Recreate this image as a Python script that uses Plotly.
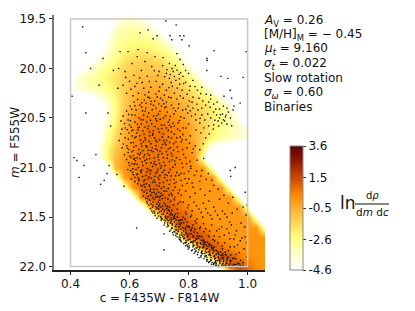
import plotly.graph_objects as go

# --- data ---
colour_grid = [0.34,0.37,0.40,0.43,0.46,0.49,0.52,0.55,0.58,0.61,0.64,0.67,0.70,0.73,0.76,0.79,0.82,0.85,0.88,0.91,0.94,0.97,1.00,1.03,1.06]
mag_grid = [19.4,19.5,19.6,19.7,19.8,19.9,20.0,20.1,20.2,20.3,20.4,20.5,20.6,20.7,20.8,20.9,21.0,21.1,21.2,21.3,21.4,21.5,21.6,21.7,21.8,21.9,22.0,22.1]
F = -9.0
G = -15.0
log_density = [
[F,F,F,F,F,F,F,-6.2,-5.4,-5.2,-5.6,-7,F,F,F,F,F,F,F,F,F,F,F,F,F],
[F,F,F,F,F,F,-6.4,-4.4,-3.7,-3.5,-3.9,-4.9,-6.5,F,F,F,F,F,F,F,F,F,F,F,F],
[F,F,F,F,F,-7,-4.9,-3.6,-3.1,-3.0,-3.1,-3.6,-4.6,-6.2,F,F,F,F,F,F,F,F,F,F,F],
[F,F,F,F,F,-6.2,-4.4,-3.2,-2.8,-2.6,-2.6,-2.8,-3.3,-4.2,-5.8,F,F,F,F,F,F,F,F,F,F],
[F,F,F,F,-7,-5.2,-3.8,-3,-2.5,-2.2,-2.1,-2.2,-2.5,-3.0,-3.9,-5.3,-7.5,F,F,F,F,F,F,F,F],
[F,F,F,-7,-5.2,-4,-3.2,-2.6,-1.9,-1.6,-1.4,-1.5,-1.7,-2.2,-3.0,-4.3,-6,F,F,F,F,F,F,F,F],
[F,F,-7,-5,-3.8,-3.2,-2.7,-2.1,-1.5,-1.2,-1.1,-1.1,-1.2,-1.6,-2.2,-3.2,-4.5,-6.5,F,F,F,F,F,F,F],
[F,-7,-4.8,-3.6,-3.1,-2.8,-2.3,-1.8,-1.3,-1.0,-0.8,-0.8,-0.8,-1.1,-1.5,-2.1,-3,-4.3,-6.2,F,F,F,F,F,F],
[F,-6.6,-4.4,-3.6,-3.3,-3.0,-2.6,-2.0,-1.3,-0.8,-0.5,-0.4,-0.4,-0.6,-1.0,-1.5,-2.2,-3.0,-4.2,-6,F,F,F,F,F],
[F,F,F,-7,-5.2,-4.2,-3.4,-2.4,-1.3,-0.6,-0.2,-0.1,-0.1,-0.3,-0.6,-1,-1.5,-2,-2.8,-3.6,-5,-7,F,F,F],
[F,F,F,F,F,-6.5,-4.0,-2.6,-1.1,-0.3,0.1,0.2,0.2,0.0,-0.2,-0.6,-1.1,-1.5,-2.1,-2.8,-3.6,-5.2,-7.5,F,F],
[F,F,F,F,F,-6,-3.8,-2.4,-0.8,0.0,0.4,0.5,0.5,0.3,0.1,-0.3,-0.9,-1.4,-2,-2.6,-3.2,-4.2,-6.2,F,F],
[F,F,F,F,-8.5,-5.5,-3.4,-2.0,-0.6,0.1,0.5,0.7,0.7,0.5,0.3,0,-0.6,-1.3,-2,-2.6,-3.0,-3.6,-4.3,-6.5,F],
[F,F,F,F,-8,-5,-3.0,-1.6,-0.4,0.2,0.6,0.7,0.8,0.6,0.4,0.1,-0.5,-1.4,-2.4,-3,-3.3,-3.6,-4.2,-6,F],
[F,F,F,F,-7.5,-4.6,-2.6,-1.2,-0.3,0.3,0.6,0.7,0.7,0.6,0.5,0.2,-0.2,-2.0,-4.6,-5.5,-5.6,-5.8,-6.5,-8,F],
[F,F,F,F,F,-5,-2.4,-0.8,0.0,0.4,0.6,0.7,0.7,0.6,0.5,0.3,0.1,-3.0,-7.9,-12.8,G,G,G,G,G],
[G,G,G,G,G,-10.6,-5.7,-0.75,0.1,0.5,0.7,0.8,0.8,0.7,0.5,0.3,0.1,0.0,-3.2,-8.2,-13,G,G,G,G],
[G,G,G,G,G,-13.6,-8.7,-3.8,-0.1,0.5,0.8,0.9,0.8,0.6,0.4,0.2,0.1,0,0,-3.5,-8.5,-13.4,G,G,G],
[G,G,G,G,G,G,-13,-8.2,-3.2,0.2,0.8,1.0,0.9,0.7,0.4,0.2,0.1,0,0,0,-3.5,-8.5,-13.4,G,G],
[G,G,G,G,G,G,G,-13.4,-8.5,-3.8,0.5,1.1,1.1,0.9,0.5,0.2,0.1,0,0,0,0,-3.5,-8.5,-12.8,G],
[G,G,G,G,G,G,G,G,-14,-9.5,-4.9,-0.1,1.0,1.2,0.8,0.4,0.1,0,0,0,0,0,-3.5,-7.9,-12.8],
[G,G,G,G,G,G,G,G,G,-15,-11.2,-6.2,-1.3,1.1,1.3,0.9,0.4,0.1,0,0,0,0,0,-3.5,-8.5],
[G,G,G,G,G,G,G,G,G,G,G,-13.4,-8.5,-3.5,1.0,1.4,1.1,0.5,0.2,0.1,0,0,0,0,-3.5],
[G,G,G,G,G,G,G,G,G,G,G,G,-13.7,-8.7,-3.8,1.0,1.5,1.2,0.6,0.2,0.1,0,0.1,0.2,0.0],
[G,G,G,G,G,G,G,G,G,G,G,G,G,G,-11.8,-6.8,-2.4,1.2,1.5,0.8,0.3,0.1,0.1,0.1,0.1],
[G,G,G,G,G,G,G,G,G,G,G,G,G,G,G,-14.5,-10,-5.2,-0.2,1.5,1.3,0.6,0.2,0.1,0],
[G,G,G,G,G,G,G,G,G,G,G,G,G,G,G,G,G,-12.3,-7.4,-2.4,1.0,1.5,0.8,0.2,0],
[G,G,G,G,G,G,G,G,G,G,G,G,G,G,G,G,G,G,-14,-9,-4,1.0,1.2,0.6,0],
]
colourbar_ticks = [-4.6,-2.6,-0.5,1.5,3.6]
colourbar_labels = ["-4.6","-2.6","-0.5","1.5","3.6"]

stars = [
# isolated stars
(.441,19.58),(.452,19.84),(.468,20.00),(.510,19.90),(.497,20.17),(.405,20.28),(.452,20.45),(.527,20.45),(.536,20.58),(.412,20.90),(.486,20.87),
(.723,19.52),(.758,19.56),(.636,19.64),(.663,19.61),(.693,19.67),(.680,19.70),(.737,19.67),(.743,19.71),(.771,19.67),(.784,19.67),(.777,19.71),(.802,19.77),
(.886,19.82),(.995,19.83),(.862,19.90),(.863,19.92),(.862,20.02),(.910,20.08),(.933,20.10),(.985,20.09),(.941,20.22),(.920,20.28),(.946,20.30),(.975,20.35),(.954,20.38),(.951,20.42),(.946,20.58),
(.422,20.93),(.446,20.98),(.531,20.98),(.524,21.06),(.429,21.10),(.514,21.13),(.502,21.17),(.557,21.07),(.581,21.19),(.624,21.61),(.717,21.83),(.717,21.67),(.958,21.00),(.941,21.03),(.943,21.09),
(.771,21.73),(.797,21.80),(.835,21.91),(.848,21.87),(.872,21.95),(.825,21.84),(.862,21.93),(.790,21.76),(.768,21.70),(.868,21.96),(.885,21.97),(.892,21.99),(.856,21.90),
# upper region
(.568,19.83),(.595,19.83),(.629,19.81),(.660,19.84),(.686,19.88),(.626,19.88),(.714,19.89),(.760,19.85),(.771,19.91),(.744,20.00),(.735,19.95),(.652,19.93),(.608,19.95),(.585,20.03),(.545,20.02),(.563,20.00),
(.675,19.98),(.700,20.03),(.725,20.05),(.748,20.03),(.755,19.97),(.782,19.96),(.790,20.02),(.768,20.06),(.735,20.10),(.757,20.12),(.781,20.08),(.800,20.05),(.640,20.02),(.615,20.07),(.660,20.08),(.600,20.13),
(.578,20.17),(.560,20.20),(.625,20.15),(.690,20.13),(.712,20.16),(.745,20.18),(.770,20.16),(.790,20.14),(.805,20.18),(.815,20.12),(.830,20.22),(.845,20.19),(.672,20.19),(.648,20.20),(.605,20.21),(.590,20.25),
(.630,20.25),(.665,20.24),(.700,20.23),(.725,20.22),(.752,20.25),(.778,20.22),(.795,20.26),(.815,20.29),(.835,20.30),(.860,20.26),(.875,20.27),(.848,20.33),(.828,20.36),(.803,20.33),(.782,20.30),(.760,20.31),
# right-hand branch
(.832,20.42),(.845,20.40),(.858,20.37),(.868,20.34),(.875,20.31),(.885,20.36),(.897,20.34),(.905,20.41),(.918,20.38),(.930,20.40),(.885,20.44),(.895,20.47),(.905,20.50),(.915,20.46),(.925,20.49),(.935,20.44),
(.900,20.53),(.912,20.55),(.922,20.53),(.930,20.56),(.942,20.50),(.875,20.50),(.865,20.46),(.855,20.52),(.845,20.47),(.838,20.55),(.852,20.60),(.868,20.58),(.885,20.57),(.870,20.66),(.858,20.70),(.842,20.65),(.825,20.62),
(.825,20.52),(.810,20.48),(.797,20.45),(.815,20.40),(.798,20.38),(.780,20.42),(.765,20.40),(.785,20.50),(.800,20.56),(.782,20.60),(.765,20.55),(.806,20.68),(.792,20.72),(.822,20.78),(.850,20.76),(.838,20.82),(.812,20.85),
# core
(.578,20.48),(.590,20.43),(.602,20.38),(.615,20.34),(.595,20.52),(.608,20.47),(.622,20.42),(.635,20.37),(.650,20.32),(.668,20.30),(.685,20.33),(.705,20.30),(.725,20.34),(.742,20.37),(.655,20.40),(.672,20.36),(.690,20.40),(.708,20.38),(.728,20.44),(.750,20.46),
(.585,20.60),(.600,20.57),(.618,20.54),(.632,20.50),(.648,20.47),(.665,20.45),(.682,20.48),(.698,20.46),(.715,20.50),(.735,20.52),(.752,20.58),(.770,20.63),(.640,20.56),(.658,20.54),(.675,20.56),(.692,20.53),(.708,20.57),(.725,20.60),(.742,20.64),(.760,20.70),(.775,20.74),
(.570,20.66),(.585,20.70),(.598,20.65),(.612,20.62),(.628,20.60),(.645,20.63),(.662,20.61),(.680,20.63),(.697,20.61),(.715,20.66),(.732,20.69),(.750,20.76),(.618,20.70),(.635,20.68),(.652,20.70),(.668,20.68),(.685,20.70),(.702,20.72),(.720,20.75),(.738,20.80),(.780,20.82),(.795,20.80),
(.575,20.80),(.590,20.78),(.605,20.75),(.622,20.78),(.640,20.76),(.655,20.78),(.672,20.76),(.690,20.78),(.708,20.80),(.725,20.84),(.745,20.88),(.765,20.84),(.770,20.92),(.790,20.90),(.805,20.94),(.595,20.85),(.612,20.83),(.628,20.86),(.645,20.83),(.662,20.86),(.680,20.84),(.698,20.87),(.715,20.90),(.735,20.94),(.755,20.97),
(.590,20.92),(.605,20.90),(.620,20.93),(.635,20.91),(.652,20.93),(.668,20.91),(.685,20.94),(.702,20.96),(.720,20.98),(.738,21.02),(.760,21.05),(.780,21.00),(.800,21.04),(.820,21.08),(.845,21.03),(.600,20.98),(.615,20.97),(.630,21.00),(.645,20.98),(.660,21.01),(.678,20.99),(.695,21.02),(.712,21.05),(.728,21.08),(.750,21.12),
(.610,21.05),(.625,21.07),(.640,21.05),(.655,21.08),(.670,21.06),(.685,21.09),(.700,21.12),(.715,21.15),(.735,21.17),(.755,21.20),(.775,21.13),(.795,21.16),(.815,21.20),(.838,21.14),(.860,21.12),(.632,21.12),(.648,21.14),(.662,21.12),(.678,21.15),(.692,21.18),(.708,21.21),(.725,21.24),(.745,21.28),(.765,21.26),
(.612,20.88),(.608,20.96),(.622,21.02),(.618,21.10),(.638,21.18),(.652,21.20),(.668,21.19),(.682,21.22),(.698,21.25),(.712,21.28),(.730,21.32),(.642,21.23),(.658,21.26),(.672,21.28),(.688,21.30),(.702,21.33),(.718,21.36),(.735,21.40),
# ridge
(.655,21.31),(.668,21.33),(.680,21.35),(.692,21.37),(.705,21.40),(.720,21.43),(.665,21.38),(.678,21.40),(.690,21.42),(.702,21.45),(.715,21.47),(.730,21.50),(.745,21.48),(.685,21.46),(.698,21.49),(.710,21.52),(.722,21.54),(.738,21.56),(.752,21.55),
(.707,21.53),(.719,21.56),(.732,21.59),(.745,21.61),(.757,21.60),(.772,21.58),(.727,21.60),(.740,21.63),(.753,21.65),(.762,21.67),(.777,21.66),(.790,21.63),(.802,21.60),(.748,21.68),(.761,21.70),(.772,21.71),(.784,21.72),(.797,21.70),(.809,21.67),
(.775,21.75),(.788,21.76),(.800,21.77),(.812,21.75),(.825,21.72),(.838,21.69),(.790,21.79),(.802,21.81),(.815,21.80),(.828,21.78),(.840,21.76),(.810,21.84),(.822,21.85),(.835,21.83),(.848,21.81),(.860,21.78),(.830,21.88),(.842,21.89),(.855,21.87),(.868,21.85),(.880,21.82),
(.852,21.92),(.864,21.93),(.876,21.91),(.888,21.89),(.899,21.86),(.870,21.95),(.880,21.96),(.892,21.94),(.903,21.92),(.915,21.89),(.885,21.98),(.894,21.99),(.906,21.97),(.918,21.95),(.931,21.92),(.905,22.00),(.918,21.99),(.930,21.97),(.942,21.95),(.955,21.98),(.965,22.00),(.938,22.00),(.950,21.92),(.975,21.99),
(.722,21.38),(.735,21.44),(.748,21.52),(.762,21.50),(.775,21.56),(.788,21.52),(.802,21.60),(.815,21.58),(.830,21.66),(.845,21.70),(.855,21.76),(.872,21.78),(.885,21.84),(.900,21.86),(.925,21.88),
(.670,21.24),(.690,21.27),(.705,21.29),(.660,21.36),(.675,21.44),(.695,21.41),(.708,21.44),(.728,21.46),(.742,21.53),(.722,21.50),(.745,21.58),(.765,21.63),(.785,21.68),(.800,21.73),(.815,21.76),(.828,21.81),(.845,21.85),(.860,21.89),(.875,21.93),(.888,21.96),(.898,21.94),
# right part of the band
(.775,21.28),(.790,21.24),(.805,21.30),(.822,21.26),(.840,21.22),(.855,21.28),(.872,21.24),(.885,21.18),(.900,21.22),(.800,21.38),(.818,21.35),(.835,21.42),(.850,21.36),(.868,21.34),(.885,21.40),(.905,21.32),(.920,21.28),(.935,21.36),(.950,21.30),
(.790,21.45),(.810,21.48),(.828,21.52),(.848,21.50),(.865,21.46),(.880,21.52),(.898,21.48),(.915,21.44),(.930,21.50),(.948,21.46),(.965,21.42),(.985,21.40),(.995,21.48),(.840,21.60),(.858,21.62),(.878,21.58),(.895,21.64),(.912,21.60),(.930,21.62),(.945,21.58),(.962,21.64),(.978,21.56),(.990,21.60),
(.870,21.70),(.888,21.74),(.905,21.70),(.922,21.76),(.940,21.72),(.958,21.68),(.975,21.74),(.992,21.70),(.915,21.82),(.935,21.84),(.955,21.80),(.972,21.86),(.988,21.82),(.998,21.90),(.960,21.92),(.985,21.96),(.998,21.76),(.998,21.38),(.992,21.25),
# further core stars
(.627,20.313),(.641,20.347),(.663,20.291),(.681,20.372),(.694,20.288),(.716,20.356),(.733,20.291),(.607,20.412),(.583,20.556),(.619,20.471),(.644,20.428),(.661,20.486),(.677,20.417),(.703,20.433),(.719,20.396),(.738,20.484),(.756,20.427),(.773,20.489),
(.592,20.617),(.603,20.526),(.627,20.563),(.639,20.518),(.653,20.592),(.671,20.523),(.686,20.587),(.704,20.512),(.718,20.573),(.731,20.627),(.747,20.553),(.763,20.612),(.781,20.667),(.596,20.713),(.609,20.682),(.624,20.651),(.637,20.722),(.649,20.663),(.667,20.737),(.679,20.659),(.693,20.741),(.711,20.692),(.726,20.724),(.742,20.701),(.757,20.741),(.772,20.692),
(.579,20.763),(.598,20.819),(.614,20.792),(.631,20.818),(.647,20.739),(.664,20.827),(.677,20.802),(.694,20.823),(.712,20.767),(.731,20.812),(.749,20.826),(.762,20.793),(.783,20.868),(.601,20.884),(.617,20.907),(.633,20.872),(.648,20.898),(.667,20.877),(.684,20.901),(.699,20.923),(.711,20.861),(.728,20.907),(.744,20.923),(.759,20.902),(.777,20.958),
(.597,20.952),(.611,21.012),(.626,20.968),(.642,21.023),(.657,20.957),(.673,21.031),(.689,20.972),(.705,21.006),(.718,21.027),(.733,21.051),(.747,20.997),(.767,21.078),(.785,21.062),(.807,20.987),(.827,21.037),(.613,21.073),(.629,21.103),(.644,21.091),(.659,21.043),(.674,21.108),(.689,21.058),(.703,21.081),(.719,21.102),(.738,21.127),(.758,21.148),(.779,21.182),(.801,21.113),
(.628,21.164),(.643,21.187),(.657,21.163),(.671,21.219),(.686,21.149),(.701,21.188),(.717,21.196),(.731,21.212),(.748,21.231),(.769,21.229),(.649,21.248),(.663,21.292),(.676,21.254),(.694,21.294),(.707,21.261),(.721,21.307),(.739,21.342),(.752,21.326),(.771,21.349),
# further ridge stars
(.658,21.343),(.673,21.367),(.684,21.323),(.697,21.352),(.712,21.391),(.726,21.413),(.743,21.432),(.671,21.416),(.683,21.441),(.699,21.421),(.709,21.473),(.722,21.491),(.737,21.477),(.753,21.512),(.693,21.513),(.706,21.497),(.717,21.531),(.731,21.538),(.744,21.568),(.758,21.527),(.772,21.532),
(.717,21.582),(.729,21.578),(.743,21.613),(.755,21.627),(.767,21.601),(.781,21.611),(.794,21.587),(.736,21.644),(.746,21.657),(.758,21.666),(.771,21.683),(.783,21.641),(.794,21.672),(.807,21.638),(.819,21.651),(.756,21.687),(.768,21.723),(.781,21.699),(.791,21.737),(.804,21.722),(.816,21.702),(.828,21.722),
(.783,21.768),(.795,21.782),(.807,21.757),(.818,21.787),(.831,21.761),(.843,21.733),(.855,21.752),(.799,21.824),(.813,21.831),(.826,21.812),(.838,21.803),(.852,21.782),(.866,21.796),(.819,21.867),(.832,21.856),(.845,21.842),(.859,21.824),(.872,21.834),(.886,21.803),
(.842,21.904),(.856,21.893),(.869,21.881),(.882,21.864),(.894,21.877),(.908,21.853),(.862,21.946),(.876,21.938),(.889,21.921),(.901,21.907),(.914,21.913),(.927,21.881),(.878,21.979),(.893,21.964),(.906,21.951),(.919,21.936),(.932,21.921),(.943,21.943),(.901,21.989),(.914,21.978),(.927,21.964),(.941,21.972),(.953,21.978),(.966,21.962),(.929,21.996),(.951,21.993),
(.728,21.393),(.741,21.462),(.755,21.473),(.767,21.537),(.781,21.501),(.795,21.548),(.809,21.626),(.822,21.623),(.837,21.692),(.851,21.733),(.864,21.752),(.879,21.811),(.893,21.838),(.911,21.887),(.934,21.903),
(.782,21.351),(.797,21.407),(.812,21.436),(.827,21.387),(.843,21.455),(.858,21.414),(.874,21.483),(.891,21.441),(.907,21.523),(.923,21.468),(.939,21.551),(.826,21.562),(.851,21.567),(.871,21.643),(.887,21.691),(.904,21.622),(.921,21.684),(.937,21.663),(.953,21.722),(.966,21.782),(.981,21.712),(.941,21.802),(.924,21.857),(.976,21.938),
# third pass over the densest parts
(.606,20.594),(.689,20.508),(.653,20.431),(.722,20.478),(.629,20.621),(.701,20.644),(.664,20.582),(.741,20.591),(.678,20.673),(.613,20.749),(.736,20.748),(.659,20.793),(.703,20.839),(.626,20.901),(.688,20.812),(.741,20.857),(.651,20.873),(.607,20.842),(.716,20.948),(.673,20.952),
(.637,21.036),(.694,21.043),(.618,21.141),(.666,21.098),(.727,21.131),(.649,21.171),(.702,21.157),(.684,21.251),(.741,21.263),(.627,21.067),(.756,21.084),(.774,21.061),(.793,20.961),(.752,21.161),(.788,21.112),(.812,21.156),(.668,21.331),(.711,21.314),(.749,21.377),(.762,21.421),
(.679,21.382),(.699,21.388),(.687,21.484),(.713,21.421),(.727,21.523),(.741,21.509),(.759,21.574),(.759,21.632),(.773,21.623),(.789,21.611),(.797,21.688),(.793,21.754),(.817,21.741),(.831,21.793),(.849,21.774),(.846,21.871),(.861,21.858),(.873,21.874),(.891,21.917),(.894,21.972),(.909,21.931),(.917,21.968),(.925,21.991),
(.656,20.352),(.712,20.321),(.597,20.464),(.571,20.531),(.574,20.613),(.565,20.727),(.583,20.871),(.594,21.021),(.606,21.113),(.731,20.543),(.769,20.527),(.791,20.602),(.779,20.718),(.803,20.753),(.816,20.812),(.829,20.927),(.851,20.908),(.808,21.009),(.842,21.086),(.867,21.061),(.879,21.127),
(.738,20.062),(.752,20.081),(.769,20.103),(.783,20.152),(.762,20.198),(.741,20.141),(.719,20.083),(.696,20.071),(.667,20.131),(.634,20.094),(.618,20.182),(.587,20.091),(.803,20.222),(.822,20.183),(.841,20.254),(.812,20.341),(.873,20.392),(.892,20.412),(.908,20.467),(.918,20.518),(.927,20.471),(.889,20.523),(.902,20.582),(.884,20.612),
# fourth pass: the crowded middle and the ridge
(.633,20.593),(.692,20.476),(.647,20.519),(.709,20.607),(.622,20.688),(.668,20.641),(.735,20.573),(.654,20.721),(.607,20.628),(.689,20.728),(.716,20.728),(.752,20.663),(.641,20.786),(.674,20.829),(.593,20.806),(.723,20.773),(.637,20.853),(.696,20.894),(.658,20.918),(.618,20.961),(.729,20.872),(.682,20.962),(.643,20.943),(.708,20.983),(.753,20.936),
(.604,21.032),(.667,21.024),(.631,21.132),(.697,21.097),(.651,21.124),(.721,21.072),(.683,21.127),(.741,21.086),(.614,20.917),(.667,21.178),(.693,21.221),(.656,21.228),(.717,21.237),(.734,21.278),(.701,21.299),(.678,21.306),(.662,21.317),(.647,21.288),(.753,21.302),(.764,21.367),
(.689,21.398),(.702,21.372),(.716,21.448),(.731,21.429),(.696,21.462),(.679,21.458),(.708,21.513),(.722,21.512),(.736,21.527),(.751,21.492),(.763,21.463),(.778,21.527),(.729,21.561),(.741,21.547),(.755,21.592),(.769,21.567),(.783,21.556),(.797,21.598),(.812,21.609),(.751,21.646),(.765,21.647),(.777,21.681),(.791,21.657),(.803,21.668),(.815,21.688),(.829,21.691),
(.773,21.736),(.786,21.712),(.798,21.731),(.809,21.748),(.822,21.739),(.834,21.712),(.848,21.741),(.802,21.793),(.816,21.782),(.827,21.761),(.841,21.771),(.853,21.758),(.869,21.772),(.821,21.823),(.837,21.811),(.851,21.803),(.863,21.819),(.877,21.792),(.843,21.861),(.857,21.848),(.871,21.853),(.884,21.832),(.897,21.842),(.862,21.908),(.874,21.889),(.887,21.899),(.903,21.879),(.916,21.871),
(.891,21.953),(.904,21.938),(.917,21.917),(.929,21.943),(.941,21.938),(.953,21.917),(.899,22.000),(.912,21.994),(.924,21.983),(.936,21.986),(.948,21.991),(.961,21.981),(.971,21.972),(.984,21.989),(.943,21.883),(.961,21.877),(.913,21.793),(.899,21.762),(.883,21.727),(.867,21.688),(.852,21.648),(.838,21.616),(.822,21.541),(.807,21.497),(.792,21.471),
(.641,20.388),(.618,20.377),(.673,20.332),(.699,20.357),(.724,20.388),(.749,20.402),(.767,20.358),(.791,20.411),(.806,20.427),(.823,20.463),(.839,20.504),(.612,20.276),(.652,20.267),(.689,20.256),(.718,20.268),(.741,20.296),(.772,20.277),(.643,20.141),(.702,20.187),(.733,20.193),(.684,20.021),(.712,19.972),(.727,20.012),(.761,20.017),(.773,20.042),
]
stars_c = [s[0] for s in stars]
stars_m = [s[1] for s in stars]

# --- figure geometry (pixels of the 415x311 page; the page body has an 8 px margin) ---
W, H = 415, 311
BODY = 8
L, R, T, B = 54, 265, 15, 270
def px(x): return (x - L) / (R - L)
def py(y): return (B - y) / (B - T)

FONT = "DejaVu Sans"
colourscale = [[0,"#ffffff"],[0.12,"#ffffd0"],[0.26,"#ffff80"],[0.40,"#ffd050"],[0.50,"#ffb030"],[0.60,"#ff8a00"],[0.75,"#c84800"],[0.88,"#901800"],[1,"#600000"]]

fig = go.Figure()
fig.add_trace(go.Heatmap(
    x=colour_grid, y=mag_grid, z=log_density, zsmooth="best",
    zmin=-4.6, zmax=3.6, colorscale=colourscale, hoverinfo="skip",
    colorbar=dict(
        x=px(290), xanchor="left", y=0, yanchor="bottom",
        thickness=13, thicknessmode="pixels",
        len=(B-146)/(B-T), lenmode="fraction", xpad=0, ypad=0,
        tickvals=colourbar_ticks, ticktext=colourbar_labels,
        ticks="outside", ticklen=3, tickwidth=1, tickcolor="#333",
        tickfont=dict(family=FONT, size=12, color="#111"),
        outlinecolor="#888", outlinewidth=1),
))
fig.add_trace(go.Scatter(
    x=stars_c, y=stars_m, mode="markers", hoverinfo="skip",
    marker=dict(symbol="square", size=1.4, color="rgba(0,0,0,0.95)", line=dict(width=0)),
))

info = ["<i>A</i><sub>V</sub> = 0.26", "[M/H]<sub>M</sub> = − 0.45", "<i>μ<sub>t</sub></i> = 9.160",
        "<i>σ<sub>t</sub></i> = 0.022", "Slow rotation", "<i>σ<sub>ω</sub></i> = 0.60", "Binaries"]
ann = []
for i, t in enumerate(info):
    ann.append(dict(text=t, x=px(262), y=py(20.5 + i*14.4), xref="paper", yref="paper",
                    xanchor="left", yanchor="middle", showarrow=False,
                    font=dict(family=FONT, size=12, color="#111")))
ann.append(dict(text="ln", x=px(338), y=py(203), xref="paper", yref="paper", xanchor="left", yanchor="middle",
                showarrow=False, font=dict(family=FONT, size=17, color="#111")))
ann.append(dict(text="d<i>ρ</i>", x=px(372), y=py(196), xref="paper", yref="paper", xanchor="center", yanchor="middle",
                showarrow=False, font=dict(family=FONT, size=10, color="#111")))
ann.append(dict(text="d<i>m</i> d<i>c</i>", x=px(372), y=py(212), xref="paper", yref="paper", xanchor="center", yanchor="middle",
                showarrow=False, font=dict(family=FONT, size=10.5, color="#111")))

shapes = [
    dict(type="rect", xref="x", yref="y", x0=0.4, x1=1.0, y0=19.5, y1=22.0,
         line=dict(color="#c8c8c8", width=1.5), fillcolor="rgba(0,0,0,0)", layer="above"),
    dict(type="line", xref="paper", yref="paper", x0=px(355), x1=px(389), y0=py(204), y1=py(204),
         line=dict(color="#111", width=1)),
]

fig.update_layout(
    width=W-BODY, height=H-BODY, autosize=False,
    margin=dict(l=L-BODY, r=W-R, t=T-BODY, b=H-B, pad=0, autoexpand=False),
    paper_bgcolor="white", plot_bgcolor="white", showlegend=False,
    font=dict(family=FONT, size=12, color="#111"),
    annotations=ann, shapes=shapes,
    xaxis=dict(range=[0.344,1.059], tickvals=[0.4,0.6,0.8,1.0], ticktext=["0.4","0.6","0.8","1.0"],
               automargin=False, ticks="outside", ticklen=3.5, tickwidth=1, tickcolor="#222", ticklabelstandoff=-2,
               showgrid=False, zeroline=False, showline=True, linecolor="#222", linewidth=1.5,
               title=dict(text="c = F435W - F814W", standoff=1, font=dict(family=FONT, size=12)),
               tickfont=dict(family=FONT, size=12)),
    yaxis=dict(range=[22.035,19.46], tickvals=[19.5,20.0,20.5,21.0,21.5,22.0], ticktext=["19.5","20.0","20.5","21.0","21.5","22.0"],
               automargin=False, ticks="outside", ticklen=3.5, tickwidth=1, tickcolor="#222",
               showgrid=False, zeroline=False, showline=True, linecolor="#777", linewidth=2,
               title=dict(text="<i>m</i> = F555W", standoff=11, font=dict(family=FONT, size=12)),
               tickfont=dict(family=FONT, size=12)),
)
fig.write_html("out.html")
